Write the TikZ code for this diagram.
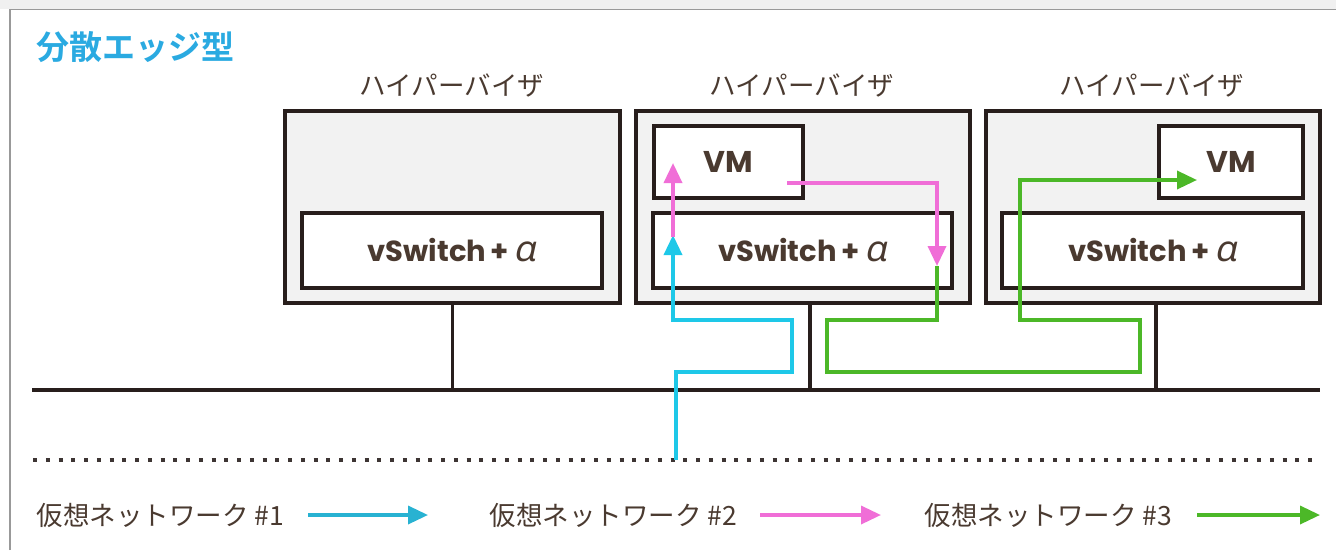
\documentclass[tikz,border=0pt]{standalone}
\usepackage{fontspec}
\setmainfont{Noto Sans CJK JP}
\newfontfamily\ttlfont{Noto Sans CJK JP Bold}
\newfontfamily\lat{Poppins}
\newfontfamily\alp{Noto Sans}[FakeSlant=0.22]
\usetikzlibrary{arrows.meta}
\definecolor{txt}{RGB}{74,58,48}
\definecolor{ttl}{RGB}{42,170,225}
\definecolor{cy}{RGB}{30,200,232}
\definecolor{cyl}{RGB}{40,178,210}
\definecolor{mg}{RGB}{240,110,215}
\definecolor{gr}{RGB}{76,184,40}
\definecolor{edge}{RGB}{40,30,28}
\definecolor{hvfill}{RGB}{242,242,242}
\tikzset{
  hv/.style={draw=edge, line width=3.5pt, fill=hvfill, inner sep=0pt},
  inbox/.style={draw=edge, line width=3.5pt, fill=white, inner sep=0pt, text=txt},
  hvlabel/.style={text=txt, font=\fontsize{26.5}{26.5}\selectfont},
  legend/.style={text=txt, font=\fontsize{26.5}{26.5}\selectfont, anchor=west},
  wire/.style={draw=edge, line width=3.5pt},
  net/.style={line width=3.5pt, -{Triangle[length=20pt,width=18pt]}},
  vmtext/.style={font=\lat\bfseries\fontsize{30}{30}\selectfont},
}
\newcommand{\vsw}{{\lat\bfseries\fontsize{29}{29}\selectfont vSwitch\,+\,}{\alp\fontsize{36}{36}\selectfont α}}
\begin{document}
\begin{tikzpicture}[x=1pt,y=-1pt]
\useasboundingbox (0,0) rectangle (1336,550);
\fill[gray!12] (0,0) rectangle (1336,9);
\draw[gray!80, line width=1.5pt] (10,550) -- (10,9.5) -- (1336,9.5);
% title
\node[anchor=west, text=ttl, font=\ttlfont\fontsize{33}{33}\selectfont] (title) at (33,47) {分散エッジ型};
% hypervisors
\node[hv, minimum width=335pt, minimum height=192pt] (h1) at (452.5,207) {};
\node[hv, minimum width=334pt, minimum height=192pt] (h2) at (803,207) {};
\node[hv, minimum width=334pt, minimum height=192pt] (h3) at (1153,207) {};
\node[hvlabel] (l1) at (452,85) {ハイパーバイザ};
\node[hvlabel] (l2) at (802,85) {ハイパーバイザ};
\node[hvlabel] (l3) at (1152,85) {ハイパーバイザ};
% vSwitches
\node[inbox, minimum width=300pt, minimum height=75pt] (s1) at (452,250.5) {\vsw};
\node[inbox, minimum width=299pt, minimum height=75pt] (s2) at (802.5,250.5) {\vsw};
\node[inbox, minimum width=301pt, minimum height=75pt] (s3) at (1152.5,250.5) {\vsw};
% VMs
\node[inbox, minimum width=149pt, minimum height=72pt, vmtext] (vm2) at (728.5,162) {VM};
\node[inbox, minimum width=144pt, minimum height=72pt, vmtext] (vm3) at (1231,162) {VM};
% bus
\coordinate (busL) at (32,390);
\coordinate (busR) at (1320,390);
\draw[wire] (busL) -- (busR);
\draw[wire] (h1.south) -- (h1.south |- busL);
\draw[wire] ([xshift=7pt]h2.south) -- ([xshift=7pt]h2.south |- busL);
\draw[wire] ([xshift=3pt]h3.south) -- ([xshift=3pt]h3.south |- busL);
% dotted line
\coordinate (dotL) at (33,460);
\coordinate (dotR) at (1320,460);
\draw[edge!90, line width=4pt, dash pattern=on 4pt off 8.75pt] (dotL) -- (dotR);
% network 1 (cyan)
\coordinate (c0) at (676,460);
\coordinate (c1) at (676,372);
\coordinate (c2) at (792,372);
\coordinate (c3) at (792,320);
\coordinate (c4) at (673,320);
\coordinate (c5) at (673,235);
\draw[net, cy] (c0) -- (c1) -- (c2) -- (c3) -- (c4) -- (c5);
% network 2 (magenta)
\coordinate (m0) at (673,237);
\coordinate (m1) at (673,163);
\draw[net, mg] (m0) -- (m1);
\coordinate (m2) at (787,183);
\coordinate (m3) at (937,183);
\coordinate (m4) at (937,266);
\draw[net, mg] (m2) -- (m3) -- (m4);
% network 3 (green)
\coordinate (g0) at (937,266);
\coordinate (g1) at (937,320);
\coordinate (g2) at (827,320);
\coordinate (g3) at (827,372);
\coordinate (g4) at (1140,372);
\coordinate (g5) at (1140,320);
\coordinate (g6) at (1020,320);
\coordinate (g7) at (1020,180);
\coordinate (g8) at (1197,180);
\draw[net, gr] (g0) -- (g1) -- (g2) -- (g3) -- (g4) -- (g5) -- (g6) -- (g7) -- (g8);
% legend
\node[legend] (n1) at (33,515) {仮想ネットワーク \#1};
\node[legend] (n2) at (486,515) {仮想ネットワーク \#2};
\node[legend] (n3) at (921,515) {仮想ネットワーク \#3};
\coordinate (a1) at (308,515); \coordinate (b1) at (428,515);
\coordinate (a2) at (760,515); \coordinate (b2) at (881,515);
\coordinate (a3) at (1197,515); \coordinate (b3) at (1320,515);
\draw[net, cyl] (a1) -- (b1);
\draw[net, mg] (a2) -- (b2);
\draw[net, gr] (a3) -- (b3);
\end{tikzpicture}
\end{document}
